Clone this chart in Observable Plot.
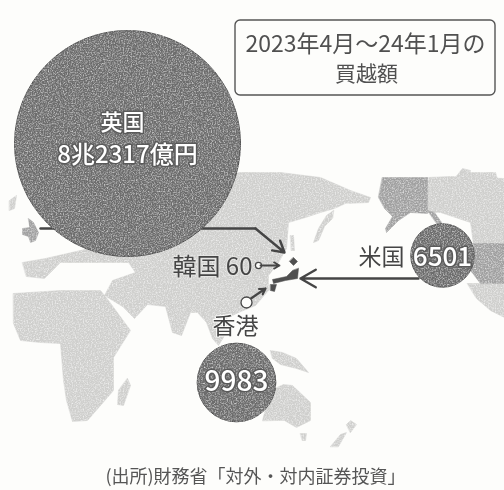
<!DOCTYPE html>
<html lang="ja">
<head>
<meta charset="utf-8">
<script src="https://cdn.jsdelivr.net/npm/d3@7"></script>
<script src="https://cdn.jsdelivr.net/npm/@observablehq/plot@0.6"></script>
<style>
html,body{margin:0;padding:0;background:#fdfdfb;}
svg{display:block;filter:blur(0.45px);}
</style>
</head>
<body>
<div id="chart"></div>
<script>
// Buying amounts (oku yen)
const countries = ["英国", "米国", "香港", "韓国"];
const amounts = [82317, 6501, 9983, 60];
const amountLabels = ["8兆2317億円", "6501", "9983", "60"];

// Bubble anchors on the page-grid map
const bubbleX = [127, 442, 236, 258];
const bubbleY = [143, 255, 382, 265];

// Land outlines on the same grid
const africa = [[13,293],[60,290],[100,290],[108,300],[130,330],[113,357],[113,390],[100,405],[87,420],[72,421],[66,400],[63,380],[60,343],[40,342],[20,340],[13,323]];
const madagascar = [[127,378],[130,385],[123,405],[117,404],[118,390]];
const eurasia = [[22,262],[45,258],[80,250],[120,240],[170,215],[200,178],[240,172],[280,172],[320,177],[350,190],[370,197],[368,202],[345,203],[334,208],[320,212],[305,217],[288,222],[286,248],[278,262],[268,275],[268,290],[255,305],[238,312],[226,318],[226,332],[218,345],[212,338],[206,322],[197,312],[190,312],[181,335],[172,332],[165,306],[147,304],[134,318],[122,306],[104,295],[112,280],[135,272],[128,262],[100,262],[60,262],[44,278],[26,276]];
const kamchatka = [[333,210],[326,215],[318,228],[313,242],[318,240],[324,226],[332,218]];
const southeastAsia = [[270,350],[282,352],[296,358],[308,372],[296,368],[280,364],[272,358]];
const australia = [[262,420],[270,390],[283,384],[292,385],[310,402],[310,420],[296,427],[284,420]];
const newZealand = [[330,446],[340,434],[346,432],[338,446]];
const northIsland = [[346,424],[350,420],[356,424],[350,432]];
const tasmania = [[300,433],[306,433],[305,440],[302,440]];
const canada = [[427,177],[450,176],[504,178],[504,244],[473,244],[470,222],[440,212],[427,212]];
const arctic = [[454,178],[462,168],[470,170],[468,178]];
const arctic2 = [[468,172],[495,172],[498,182],[468,182]];
const alaska = [[382,177],[427,177],[427,213],[410,212],[398,220],[386,232],[385,228],[392,216],[384,208],[378,197]];
const panhandle = [[427,210],[434,212],[444,226],[440,228]];
const unitedStates = [[473,243],[504,243],[504,283],[480,283],[470,270]];
const mexico = [[467,283],[504,283],[504,317],[490,310],[476,298]];
const britain = [[28,218],[33,222],[38,232],[35,240],[30,242],[28,236],[22,234],[22,228],[29,227]];
const iceland = [[9,200],[16,195],[14,208],[9,210]];
const honshu = [[298,268],[297,278],[285,280],[273,283],[272,279],[286,276],[292,270]];
const hokkaido = [[293,257],[297,261],[293,265],[289,261]];
const kyushu = [[270,284],[276,284],[274,291],[270,290]];
const sakhalin = [[290,235],[293,235],[294,250],[291,250]];
const titleLines = ["2023年4月～24年1月の", "買越額"];
const source = "(出所)財務省「対外・対内証券投資」";

const land = (pts, fill) => Plot.line(pts, {x: d => d[0], y: d => d[1], fill, stroke: fill, strokeWidth: 0.5, curve: "linear-closed"});
const lightLand = [africa, madagascar, eurasia, kamchatka, southeastAsia, australia, newZealand, northIsland, tasmania, canada, arctic, arctic2, mexico, iceland, sakhalin];
const midLand = [alaska, panhandle, unitedStates, britain];
const japan = [honshu, hokkaido, kyushu];

const bubbles = countries.map((c, i) => ({c, v: amounts[i], x: bubbleX[i], y: bubbleY[i]}));
const ink = "#454545";
const halo = {stroke: "#5a5a5a", strokeWidth: 3, paintOrder: "stroke"};

const plot = Plot.plot({
  width: 504,
  height: 490,
  margin: 0,
  x: {domain: [0, 504], range: [0, 504], axis: null},
  y: {domain: [0, 490], range: [0, 490], axis: null},
  r: {type: "sqrt", domain: [0, 82317], range: [0, 113]},
  style: {background: "#fdfdfb", fontFamily: "'Noto Sans CJK JP','Noto Sans',sans-serif"},
  marks: [
    ...lightLand.map(p => land(p, "#cfcfcd")),
    ...midLand.map(p => land(p, "#a0a0a0")),
    ...japan.map(p => land(p, "#4f4f4f")),
    // 英国 route
    Plot.line([[40,228],[255,228]], {x: d => d[0], y: d => d[1], stroke: ink, strokeWidth: 2.4}),
    Plot.arrow([{x1:255,y1:228,x2:284,y2:252}], {x1:"x1",y1:"y1",x2:"x2",y2:"y2", stroke: ink, strokeWidth: 2.4, headLength: 11}),
    // bubbles
    Plot.dot(bubbles.slice(0, 3), {x: "x", y: "y", r: "v", fill: "#6c6c6c", stroke: "#4d4d4d", strokeWidth: 1}),
    Plot.dot(bubbles.slice(3), {x: "x", y: "y", r: "v", fill: "#fdfdfb", stroke: ink, strokeWidth: 1.2}),
    // routes
    Plot.arrow([{x1:418,y1:278,x2:300,y2:278}], {x1:"x1",y1:"y1",x2:"x2",y2:"y2", stroke: ink, strokeWidth: 2.4, headLength: 11}),
    Plot.arrow([{x1:260,y1:265,x2:279,y2:265}], {x1:"x1",y1:"y1",x2:"x2",y2:"y2", stroke: ink, strokeWidth: 1.8, headLength: 8}),
    Plot.arrow([{x1:249,y1:299,x2:265,y2:288}], {x1:"x1",y1:"y1",x2:"x2",y2:"y2", stroke: ink, strokeWidth: 2.2, headLength: 8}),
    Plot.dot([{x:246,y:302}], {x:"x", y:"y", r: 5.5, fill:"#fdfdfb", stroke: ink, strokeWidth: 1.3}),
    // title box
    Plot.rect([{x1:235,x2:495,y1:20,y2:95}], {x1:"x1",x2:"x2",y1:"y1",y2:"y2", fill:"none", stroke:"#555", strokeWidth:1.4, rx:5}),
    Plot.text([titleLines[0]], {x: 365, y: 44, text: d => d, fontSize: 23, fill: "#505050"}),
    Plot.text([titleLines[1]], {x: 366, y: 74, text: d => d, fontSize: 21, fill: "#505050"}),
    // white labels
    Plot.text(["英国"], {x: 122, y: 122, text: d => d, fontSize: 22, fontWeight: 500, fill: "#fff", ...halo}),
    Plot.text([amountLabels[0]], {x: 127, y: 155, text: d => d, fontSize: 24, fontWeight: 500, fill: "#fff", ...halo}),
    Plot.text([amountLabels[1]], {x: 442, y: 257, text: d => d, fontSize: 26, fontWeight: 500, fill: "#fff", ...halo}),
    Plot.text([amountLabels[2]], {x: 236, y: 382, text: d => d, fontSize: 28, fontWeight: 500, fill: "#fff", ...halo}),
    // dark labels
    Plot.text(["米国"], {x: 381, y: 257, text: d => d, fontSize: 23, fill: ink, stroke: "#fdfdfb", strokeWidth: 2, paintOrder: "stroke"}),
    Plot.text([`韓国 ${amountLabels[3]}`], {x: 212, y: 267, text: d => d, fontSize: 24, fill: ink, stroke: "#e6e6e4", strokeWidth: 2, paintOrder: "stroke"}),
    Plot.text(["香港"], {x: 235, y: 326, text: d => d, fontSize: 23, fill: ink, stroke: "#fdfdfb", strokeWidth: 2, paintOrder: "stroke"}),
    Plot.text([source], {x: 255, y: 477, text: d => d, fontSize: 18, fill: "#555"})
  ]
});

// Print grain, as in the scanned newspaper original
const svg = d3.select(plot);
const defs = svg.append("defs");
defs.html(`<filter id="grain" filterUnits="userSpaceOnUse" x="0" y="0" width="504" height="490" color-interpolation-filters="sRGB">
<feTurbulence type="fractalNoise" baseFrequency="0.75" numOctaves="2" seed="4" result="n"/>
<feColorMatrix in="n" type="matrix" values="0 0 0 0 1  0 0 0 0 1  0 0 0 0 1  1.5 0 0 0 -0.62" result="w"/>
<feComposite in="w" in2="SourceAlpha" operator="in" result="s"/>
<feMerge><feMergeNode in="SourceGraphic"/><feMergeNode in="s"/></feMerge>
</filter>`);
svg.selectAll('g[fill="#cfcfcd"],g[fill="#a0a0a0"],g[fill="#6c6c6c"]').attr("filter", "url(#grain)");
document.getElementById("chart").append(plot);
</script>
</body>
</html>
